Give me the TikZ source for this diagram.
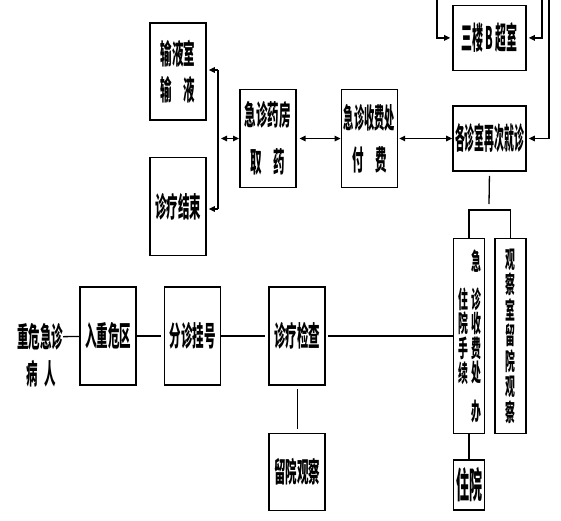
\documentclass[tikz,border=0pt]{standalone}
\usepackage{fontspec}
\usepackage{graphicx}
\newfontfamily\cjk[FakeStretch=0.41]{Noto Sans CJK SC}
\usetikzlibrary{arrows.meta,positioning}
\tikzset{
  cbox/.style={draw,line width=1.6pt,inner sep=0pt,align=center,
               minimum width=56pt,minimum height=98pt,
               font=\cjk\bfseries\fontsize{28}{36}\selectfont},
  wbox/.style={cbox,minimum width=73pt,minimum height=65pt},
  nbox/.style={cbox,minimum width=31pt,minimum height=195pt},
  vtxt/.style={inner sep=0pt,align=center,
               font=\cjk\bfseries\fontsize{24}{24.6}\selectfont},
  ptxt/.style={inner sep=0pt,font=\cjk\bfseries\fontsize{28}{36}\selectfont},
  ln/.style={line width=1.3pt},
  arr/.style={ln,-{Triangle[length=6pt,width=5.5pt]}},
  darr/.style={ln,{Triangle[length=6pt,width=5.5pt]}-{Triangle[length=6pt,width=5.5pt]}},
}

\begin{document}
\begin{tikzpicture}[x=1pt,y=-1pt]
  \path[use as bounding box,fill=white] (0,0) rectangle (561,520);
  \node[ptxt] (ill) at (40,337) {重危急诊};
  \node[ptxt] (ill2) at (41,374) {病\hspace{7pt}人};
  \node[cbox] (zone) at (108,336) {入重危区};
  \node[cbox,right=27pt of zone] (reg) {分诊挂号};
  \node[cbox,right=47pt of reg] (exam) {诊疗检查};
  \node[cbox,below=47pt of exam,minimum height=77pt] (obs) {留院观察};
  \node[nbox] (hosp1) at (469,336) {};
  \node[nbox,right=9pt of hosp1] (ward) {};
  \node[cbox,below=25pt of hosp1,minimum width=31pt,minimum height=50pt,
        font=\cjk\bfseries\fontsize{36}{36}\selectfont] (hosp) {\scalebox{0.88}[1]{住院}};
  \node[vtxt,xshift=7pt] (hosp1r) at (hosp1) {急\\[13.5pt]诊\\收\\费\\处\\[13.5pt]办};
  \node[vtxt,xshift=-6pt] (hosp1l) at (hosp1) {住\\院\\手\\续};
  \node[vtxt,font=\cjk\bfseries\fontsize{24}{25.5}\selectfont] (wardt) at (ward) {观\\察\\室\\留\\院\\观\\察};
  \node[wbox] (again) at (489.5,138.5) {\scalebox{0.8}[1]{\fontsize{30}{30}\selectfont 各诊室再次就诊}};
  \node[wbox,above=34pt of again] (bsc) {\scalebox{0.86}[1]{\fontsize{31}{30}\selectfont 三楼 B 超室}};
  \node[cbox,left=54pt of again] (pay) {\scalebox{0.89}[1]{急诊收费处}\\[6pt]付　费};
  \node[cbox,left=44pt of pay] (pharm) {急诊药房\\[11pt]取　药};
  \node[cbox,minimum height=97pt] (inf) at (178,71.5) {输液室\\输　液};
  \node[cbox,below=36pt of inf] (done) {诊疗结束};
  \coordinate (brt) at (218,70);
  \coordinate (brb) at (218,209);
  \coordinate (t1) at (437,0);
  \coordinate (t2) at (542,0);
  \coordinate (t3) at (549,0);
  \coordinate (stem) at (489,204);
  \coordinate (bar) at (489,210);
  \draw[ln] (ill) -- (zone); \draw[ln,shorten >=3pt] (zone) -- (reg);
  \draw[ln,shorten >=3pt] (reg) -- (exam); \draw[ln,shorten <=2pt] (exam) -- (hosp1);
  \draw[ln,shorten <=3pt,shorten >=4pt] (exam) -- (obs); \draw[ln] (hosp1) -- (hosp);
  \draw[ln,shorten <=4pt] (again.south) -- (stem);
  \draw[ln] (hosp1.north) |- (bar) -| (ward.north);
  \draw[ln] (brt) -- (brb);
  \draw[arr,shorten >=2pt] (brt) -- (brt -| inf.east);
  \draw[arr,shorten >=2pt] (brb) -- (brb -| done.east);
  \draw[darr,shorten <=3pt] (brt |- pharm) -- (pharm);
  \draw[darr,shorten <=3pt] (pharm) -- (pay); \draw[darr,shorten <=1pt] (pay) -- (again);
  \draw[arr,shorten >=2pt] (t1) |- (bsc.west); \draw[arr,shorten >=2pt] (t2) |- (bsc.east);
  \draw[arr,shorten >=2pt] (t3) |- (again.east);
\end{tikzpicture}
\end{document}
